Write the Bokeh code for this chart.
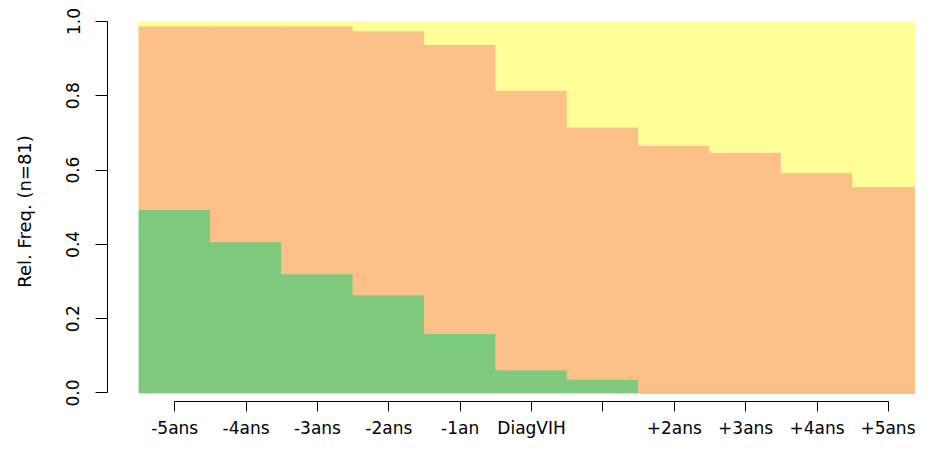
from bokeh.plotting import figure
from bokeh.models import ColumnDataSource, FixedTicker, Range1d, PrintfTickFormatter
from bokeh.embed import file_html
from bokeh.resources import INLINE

# ---- data -------------------------------------------------------------
categories = ["-5ans", "-4ans", "-3ans", "-2ans", "-1an", "DiagVIH",
              "+1an", "+2ans", "+3ans", "+4ans", "+5ans"]
# label shown under each tick (R dropped the "+1an" label for lack of room)
tick_labels = ["-5ans", "-4ans", "-3ans", "-2ans", "-1an", "DiagVIH",
               "", "+2ans", "+3ans", "+4ans", "+5ans"]

green = [0.494, 0.407, 0.321, 0.264, 0.160, 0.062, 0.037, 0.0, 0.0, 0.0, 0.0]
orange = [0.494, 0.581, 0.667, 0.711, 0.778, 0.753, 0.679, 0.667, 0.648, 0.593, 0.556]
yellow = [0.012, 0.012, 0.012, 0.025, 0.062, 0.185, 0.284, 0.333, 0.352, 0.407, 0.444]

y_ticks = [0.0, 0.2, 0.4, 0.6, 0.8, 1.0]
colors = ["#7FC97F", "#FDC086", "#FFFF99"]

# ---- figure -------------------------------------------------------------
xpos = [i + 1 for i in range(len(categories))]
src = ColumnDataSource(dict(x=xpos, cat=categories,
                            green=green, orange=orange, yellow=yellow))

p = figure(width=915, height=440, output_backend="svg", toolbar_location=None,
           x_range=Range1d(0.058, 11.38), y_range=Range1d(-0.0231, 1.0),
           min_border_left=107, min_border_right=0,
           min_border_top=21, min_border_bottom=36)

p.vbar_stack(["green", "orange", "yellow"], x="x", width=1.0, source=src,
             color=colors, line_width=1)

p.xgrid.visible = False
p.ygrid.visible = False
p.outline_line_color = None
p.background_fill_color = "white"
p.border_fill_color = "white"

FONT = "DejaVu Sans"

# x axis
xa = p.xaxis[0]
xa.ticker = FixedTicker(ticks=xpos)
xa.major_label_overrides = {x: lab for x, lab in zip(xpos, tick_labels)}
xa.bounds = (xpos[0], xpos[-1])

# y axis
ya = p.yaxis[0]
ya.ticker = FixedTicker(ticks=y_ticks)
ya.formatter = PrintfTickFormatter(format="%.1f")
ya.bounds = (0, 1)
ya.major_label_orientation = "vertical"
ya.axis_label = "Rel. Freq. (n=81)"
ya.axis_label_text_font_style = "normal"
ya.axis_label_text_font = FONT
ya.axis_label_text_font_size = "18px"
ya.axis_label_text_color = "black"
ya.axis_label_standoff = 29

for ax in (xa, ya):
    ax.axis_line_color = "black"
    ax.axis_line_width = 1
    ax.major_tick_line_color = "black"
    ax.major_tick_line_width = 1
    ax.major_tick_in = 0
    ax.minor_tick_line_color = None
    ax.major_label_text_font = FONT
    ax.major_label_text_font_size = "17px"
    ax.major_label_text_color = "black"

xa.major_tick_out = 10
ya.major_tick_out = 12
xa.major_label_standoff = 6
ya.major_label_standoff = 16

open("out.html", "w").write(file_html(p, INLINE))
